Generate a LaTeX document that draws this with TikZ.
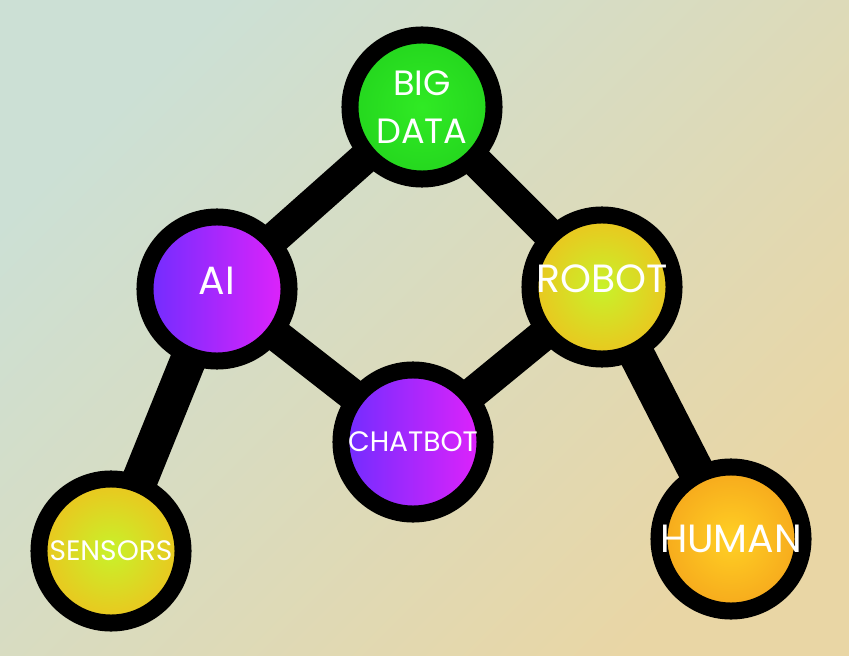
\documentclass[tikz,border=0pt]{standalone}
\usepackage{fontspec}
\setmainfont{Poppins}
\usepackage{xcolor}
\usepackage{tikz}
\usetikzlibrary{shapes,positioning,calc}

\definecolor{bgteal}{RGB}{204,224,213}
\definecolor{bgmid}{RGB}{222,223,196}
\definecolor{bgsand}{RGB}{233,214,165}
\definecolor{leafgreen}{RGB}{48,234,36}
\definecolor{deepgreen}{RGB}{36,214,30}
\definecolor{bluevio}{RGB}{110,45,255}
\definecolor{hotpink}{RGB}{226,34,250}
\definecolor{limecore}{RGB}{200,242,42}
\definecolor{amberrim}{RGB}{236,196,30}
\definecolor{suncore}{RGB}{255,208,36}
\definecolor{orangerim}{RGB}{246,168,28}

\begin{document}
\begin{tikzpicture}[
    x=0.025cm, y=-0.025cm,
    hub/.style={circle, draw=black, line width=0.425cm, minimum size=3.6cm, inner sep=0pt, outer sep=0pt},
    greenball/.style={inner color=leafgreen, outer color=deepgreen},
    violetball/.style={left color=bluevio, right color=hotpink},
    limeball/.style={inner color=limecore, outer color=amberrim},
    sunball/.style={inner color=suncore, outer color=orangerim},
    word/.style={text=white, inner sep=0pt, font=\fontsize{28}{30}\selectfont},
    smallword/.style={text=white, inner sep=0pt, font=\fontsize{20}{22}\selectfont},
    link/.style={line width=0.8cm, draw=black},
    outerlink/.style={line width=0.9cm, draw=black}
]
    \useasboundingbox (0,0) rectangle (849,656);
    \shade[top color=bgteal, middle color=bgmid, bottom color=bgsand, shading angle=45] (0,0) rectangle (849,656);

    % Hubs
    \node[hub, greenball, label={[word, align=center, font=\fontsize{25}{34}\selectfont]center:{BIG\\DATA}}] (bigdata) at (422,107) {};
    \node[hub, violetball, label={[word, yshift=0.2cm]center:AI}] (ai) at (217,289) {};
    \node[hub, limeball, label={[word, yshift=0.2cm]center:ROBOT}] (robot) at (602,287) {};
    \node[hub, violetball, label={[smallword]center:CHATBOT}] (chatbot) at (413,442) {};
    \node[hub, limeball, label={[smallword]center:SENSORS}] (sensors) at (111,551) {};
    \node[hub, sunball, label={[word]center:HUMAN}] (human) at (731,539) {};

    % Links
    \draw[link] (bigdata) -- (ai);
    \draw[link] (bigdata) -- (robot);
    \draw[link] (ai) -- (chatbot);
    \draw[link] (robot) -- (chatbot);
    \draw[outerlink] (ai) -- (sensors);
    \draw[outerlink] (robot) -- (human);
\end{tikzpicture}
\end{document}
